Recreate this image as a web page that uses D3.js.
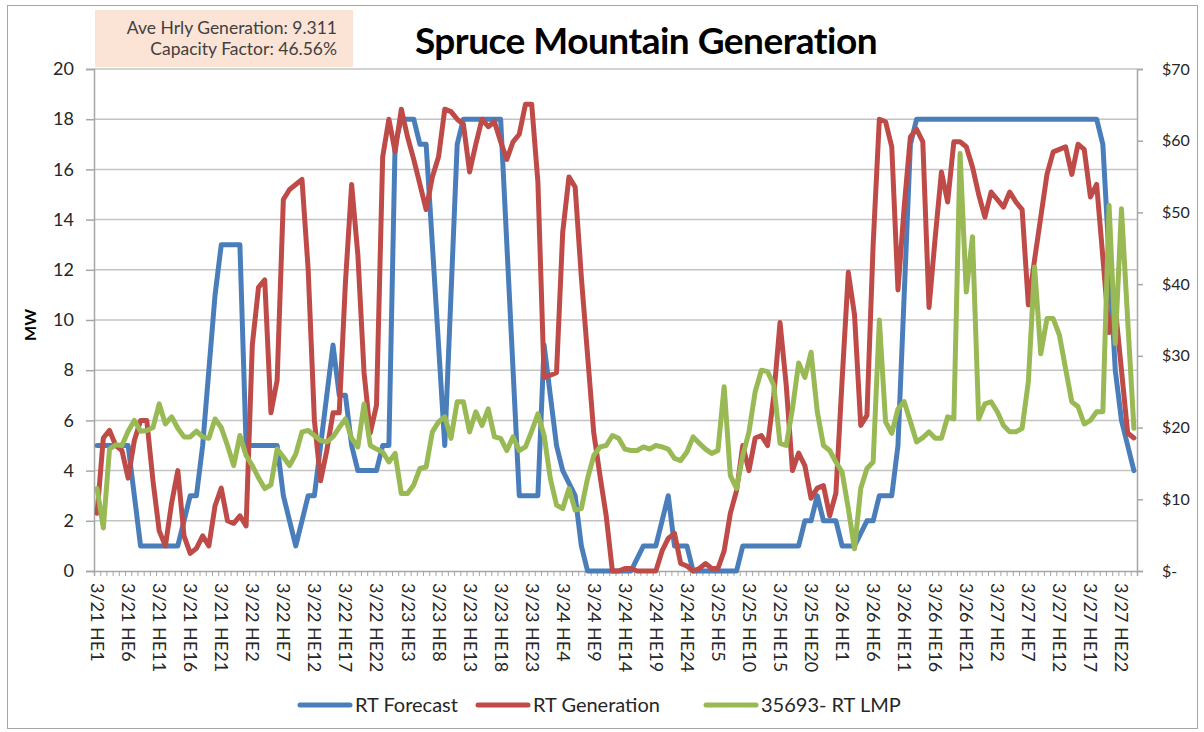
<!DOCTYPE html>
<meta charset="utf-8">
<style>
body { margin: 0; background: #fff; }
text { font-family: Lato, "Open Sans", sans-serif; }
.grid line { stroke: #c4c4c4; stroke-width: 1.5px; }
.series { fill: none; stroke-width: 5px; stroke-linejoin: round; stroke-linecap: round; }
</style>
<svg width="1204" height="732"></svg>
<script src="https://cdn.jsdelivr.net/npm/d3@7/dist/d3.min.js"></script>
<script>
// hourly values 3/21 HE1 .. 3/27 HE24
var days = ["3/21", "3/22", "3/23", "3/24", "3/25", "3/26", "3/27"];

var forecast = [
  5, 5, 5, 5, 5, 5, 3, 1, 1, 1, 1, 1, 1, 1, 2, 3, 3, 5, 8, 11,
  13, 13, 13, 13, 5, 5, 5, 5, 5, 5, 3, 2, 1, 2, 3, 3, 5, 7, 9, 7,
  7, 5, 4, 4, 4, 4, 5, 5, 17, 18, 18, 18, 17, 17, 13, 9, 5, 11, 17, 18,
  18, 18, 18, 18, 18, 18, 13, 8, 3, 3, 3, 3, 9, 7, 5, 4, 3.5, 3, 1, 0,
  0, 0, 0, 0, 0, 0, 0, 0.5, 1, 1, 1, 2, 3, 1, 1, 1, 0, 0, 0, 0,
  0, 0, 0, 0, 1, 1, 1, 1, 1, 1, 1, 1, 1, 1, 2, 2, 3, 2, 2, 2,
  1, 1, 1, 1.5, 2, 2, 3, 3, 3, 5, 11, 17, 18, 18, 18, 18, 18, 18, 18, 18,
  18, 18, 18, 18, 18, 18, 18, 18, 18, 18, 18, 18, 18, 18, 18, 18, 18, 18, 18, 18,
  18, 18, 17, 12.5, 8, 6, 5, 4
];

var generation = [
  2.3, 5.3, 5.6, 5.0, 4.8, 3.7, 5.2, 6.0, 6.0, 3.6,
  1.6, 1.0, 2.7, 4.0, 1.4, 0.7, 0.9, 1.4, 1.0, 2.6,
  3.3, 2.0, 1.9, 2.2, 1.8, 9.0, 11.3, 11.6, 6.3, 7.6,
  14.8, 15.2, 15.4, 15.6, 12.0, 6.0, 3.6, 4.8, 6.3, 6.3,
  11.5, 15.4, 12.6, 7.9, 5.5, 6.6, 16.5, 18.0, 16.7, 18.4,
  17.3, 16.4, 15.4, 14.4, 15.7, 16.5, 18.4, 18.3, 18.0, 17.8,
  15.9, 17.0, 18.0, 17.7, 17.9, 17.1, 16.4, 17.1, 17.4, 18.6,
  18.6, 15.5, 7.7, 7.8, 7.9, 13.5, 15.7, 15.3, 11.7, 8.6,
  5.5, 3.8, 2.2, 0, 0, 0.1, 0.1, 0, 0, 0,
  0, 0.8, 1.3, 1.5, 0.3, 0.2, 0, 0.1, 0.3, 0.1,
  0.1, 0.8, 2.3, 3.2, 5.0, 4.0, 5.3, 5.4, 5.0, 7.0,
  9.9, 7.4, 4.0, 4.7, 4.2, 2.9, 3.3, 3.4, 2.2, 3.1,
  7.6, 11.9, 10.2, 5.8, 6.2, 13.0, 18.0, 17.9, 16.9, 11.2,
  14.5, 17.3, 17.6, 17.1, 10.5, 13.3, 15.9, 14.7, 17.1, 17.1,
  16.9, 16.1, 15.0, 14.1, 15.1, 14.8, 14.5, 15.1, 14.7, 14.4,
  10.6, 12.4, 14.1, 15.8, 16.7, 16.8, 16.9, 15.8, 17.0, 16.8,
  14.9, 15.4, 12.5, 9.5, 10.5, 8.0, 5.5, 5.3
];

var lmp = [
  11.5, 6, 17, 17.6, 17.5, 19.5, 21, 19.5, 19.6, 20,
  23.3, 20.5, 21.5, 19.9, 18.7, 18.7, 19.5, 18.7, 18.5, 21.2,
  20, 17.5, 14.7, 18.9, 16.1, 14.7, 13, 11.5, 12, 17,
  15.9, 14.7, 16.3, 19.4, 19.6, 18.9, 18.2, 18, 18.7, 20,
  21.2, 18.5, 17.3, 23.3, 17.5, 17, 16.6, 15.2, 16.4, 10.8,
  10.8, 12, 14.3, 14.5, 19.4, 20.8, 21.5, 18.5, 23.6, 23.6,
  19.4, 22.2, 20.3, 22.6, 18.7, 18.5, 16.8, 18.7, 16.8, 17.3,
  19.5, 21.9, 18.9, 12.9, 9.2, 8.7, 11.5, 8.5, 8.7, 12.9,
  16.1, 17.3, 17.5, 18.9, 18.5, 17, 16.8, 16.8, 17.3, 17,
  17.5, 17.3, 17, 15.7, 15.4, 16.6, 18.7, 17.8, 17, 16.4,
  16.8, 25.7, 13.3, 11.5, 16.1, 19.4, 25, 28, 27.8, 25.9,
  17.8, 17.5, 22.6, 29, 27, 30.5, 22.2, 17.5, 16.8, 15.2,
  13.8, 8.7, 3.1, 11.5, 14.3, 15.2, 35, 20.8, 19.2, 22.6,
  23.6, 20.8, 18, 18.6, 19.4, 18.5, 18.5, 21.5, 21.2, 58.2,
  38.9, 46.6, 21.2, 23.3, 23.6, 22.2, 20.3, 19.4, 19.4, 19.9,
  26.4, 42.4, 30.3, 35.2, 35.2, 32.9, 28.2, 23.6, 22.9, 20.5,
  21, 22.2, 22.2, 51, 31.7, 50.5, 35, 19.9
];

var mwTicks = [0, 2, 4, 6, 8, 10, 12, 14, 16, 18, 20];
var priceTicks = [0, 10, 20, 30, 40, 50, 60, 70];
var seriesNames = ["RT Forecast", "RT Generation", "35693- RT LMP"];
var seriesColors = ["#4a7ebb", "#be4b48", "#98b954"];
var infoLines = ["Ave Hrly Generation: 9.311", "Capacity Factor: 46.56%"];

var categories = [];
days.forEach(function(d) {
  for (var h = 1; h <= 24; h++) categories.push(d + " HE" + h);
});

var svg = d3.select("svg");
var plotL = 94, plotR = 1137, plotT = 69, plotB = 571;

// outer border
svg.append("rect").attr("x", 7.5).attr("y", 5.5).attr("width", 1190).attr("height", 723)
  .attr("fill", "#fff").attr("stroke", "#a6a6a6").attr("stroke-width", 1);

var x = d3.scaleLinear().domain([0, categories.length]).range([plotL, plotR]);
var y = d3.scaleLinear().domain([0, 20]).range([plotB, plotT]);
var y2 = d3.scaleLinear().domain([0, 70]).range([plotB, plotT]);

// gridlines
svg.append("g").attr("class", "grid")
  .selectAll("line").data(mwTicks.slice(1)).enter().append("line")
  .attr("x1", plotL).attr("x2", plotR)
  .attr("y1", function(d) { return y(d); }).attr("y2", function(d) { return y(d); });

// left axis
var yAxis = svg.append("g").attr("transform", "translate(" + plotL + ",0)")
  .call(d3.axisLeft(y).tickValues(mwTicks).tickSize(8).tickPadding(12));
yAxis.select(".domain").attr("stroke", "#a6a6a6").attr("stroke-width", 1.5);
yAxis.selectAll(".tick line").attr("stroke", "#a6a6a6").attr("stroke-width", 1.5);
yAxis.selectAll("text").attr("font-size", 18).attr("fill", "#262626")
  .style("font-family", "Lato, sans-serif");

// right axis
var yAxis2 = svg.append("g").attr("transform", "translate(" + plotR + ",0)")
  .call(d3.axisRight(y2).tickValues(priceTicks).tickSize(6).tickPadding(19)
    .tickFormat(function(d) { return d === 0 ? "$-" : "$" + d; }));
yAxis2.select(".domain").attr("stroke", "#a6a6a6").attr("stroke-width", 1.5);
yAxis2.selectAll(".tick line").attr("stroke", "#a6a6a6").attr("stroke-width", 1.5);
yAxis2.selectAll("text").attr("font-size", 16).attr("fill", "#262626")
  .style("font-family", "Lato, sans-serif");

// category axis: a tick between every hour, a label every 5 hours
var xAxis = svg.append("g").attr("transform", "translate(0," + plotB + ")")
  .call(d3.axisBottom(x).tickValues(d3.range(categories.length + 1)).tickSize(5).tickFormat(""));
xAxis.select(".domain").attr("stroke", "#a6a6a6").attr("stroke-width", 1.5);
xAxis.selectAll(".tick line").attr("stroke", "#a6a6a6").attr("stroke-width", 1);

svg.append("g").selectAll("text")
  .data(categories.filter(function(d, i) { return i % 5 === 0; }))
  .enter().append("text")
  .attr("transform", function(d) {
    var i = categories.indexOf(d);
    return "translate(" + (x(i + 0.5) - 6) + "," + (plotB + 12) + ") rotate(90)";
  })
  .attr("font-size", 18).attr("fill", "#262626")
  .text(function(d) { return d; });

// series
var line = function(scale) {
  return d3.line().x(function(d, i) { return x(i + 0.5); }).y(function(d) { return scale(d); });
};
svg.append("path").attr("class", "series").attr("stroke", seriesColors[0]).attr("d", line(y)(forecast));
svg.append("path").attr("class", "series").attr("stroke", seriesColors[1]).attr("d", line(y)(generation));
svg.append("path").attr("class", "series").attr("stroke", seriesColors[2]).attr("d", line(y2)(lmp));

// title + axis title
svg.append("text").attr("x", 646).attr("y", 54).attr("text-anchor", "middle")
  .attr("font-size", 37).attr("font-weight", "bold").attr("fill", "#000")
  .attr("letter-spacing", -0.5)
  .text("Spruce Mountain Generation");
svg.append("text").attr("transform", "translate(36,325) rotate(-90)")
  .attr("text-anchor", "middle").attr("font-size", 16).attr("font-weight", "bold")
  .text("MW");

// info box
svg.append("rect").attr("x", 95).attr("y", 10).attr("width", 258).attr("height", 57)
  .attr("fill", "#fbe4d5");
svg.append("g").selectAll("text").data(infoLines).enter().append("text")
  .attr("x", 337).attr("y", function(d, i) { return 34 + i * 21; })
  .attr("text-anchor", "end").attr("font-size", 17.5).attr("fill", "#404040")
  .text(function(d) { return d; });

// legend
var legendX = [300, 478, 706];
var legend = svg.append("g").selectAll("g").data(seriesNames).enter().append("g")
  .attr("transform", function(d, i) { return "translate(" + legendX[i] + ",705)"; });
legend.append("line").attr("x1", 0).attr("x2", 50).attr("y1", 0).attr("y2", 0)
  .attr("stroke", function(d, i) { return seriesColors[i]; })
  .attr("stroke-width", 5).attr("stroke-linecap", "round");
legend.append("text").attr("x", 55).attr("y", 7).attr("font-size", 20).attr("fill", "#262626")
  .text(function(d) { return d; });
</script>
